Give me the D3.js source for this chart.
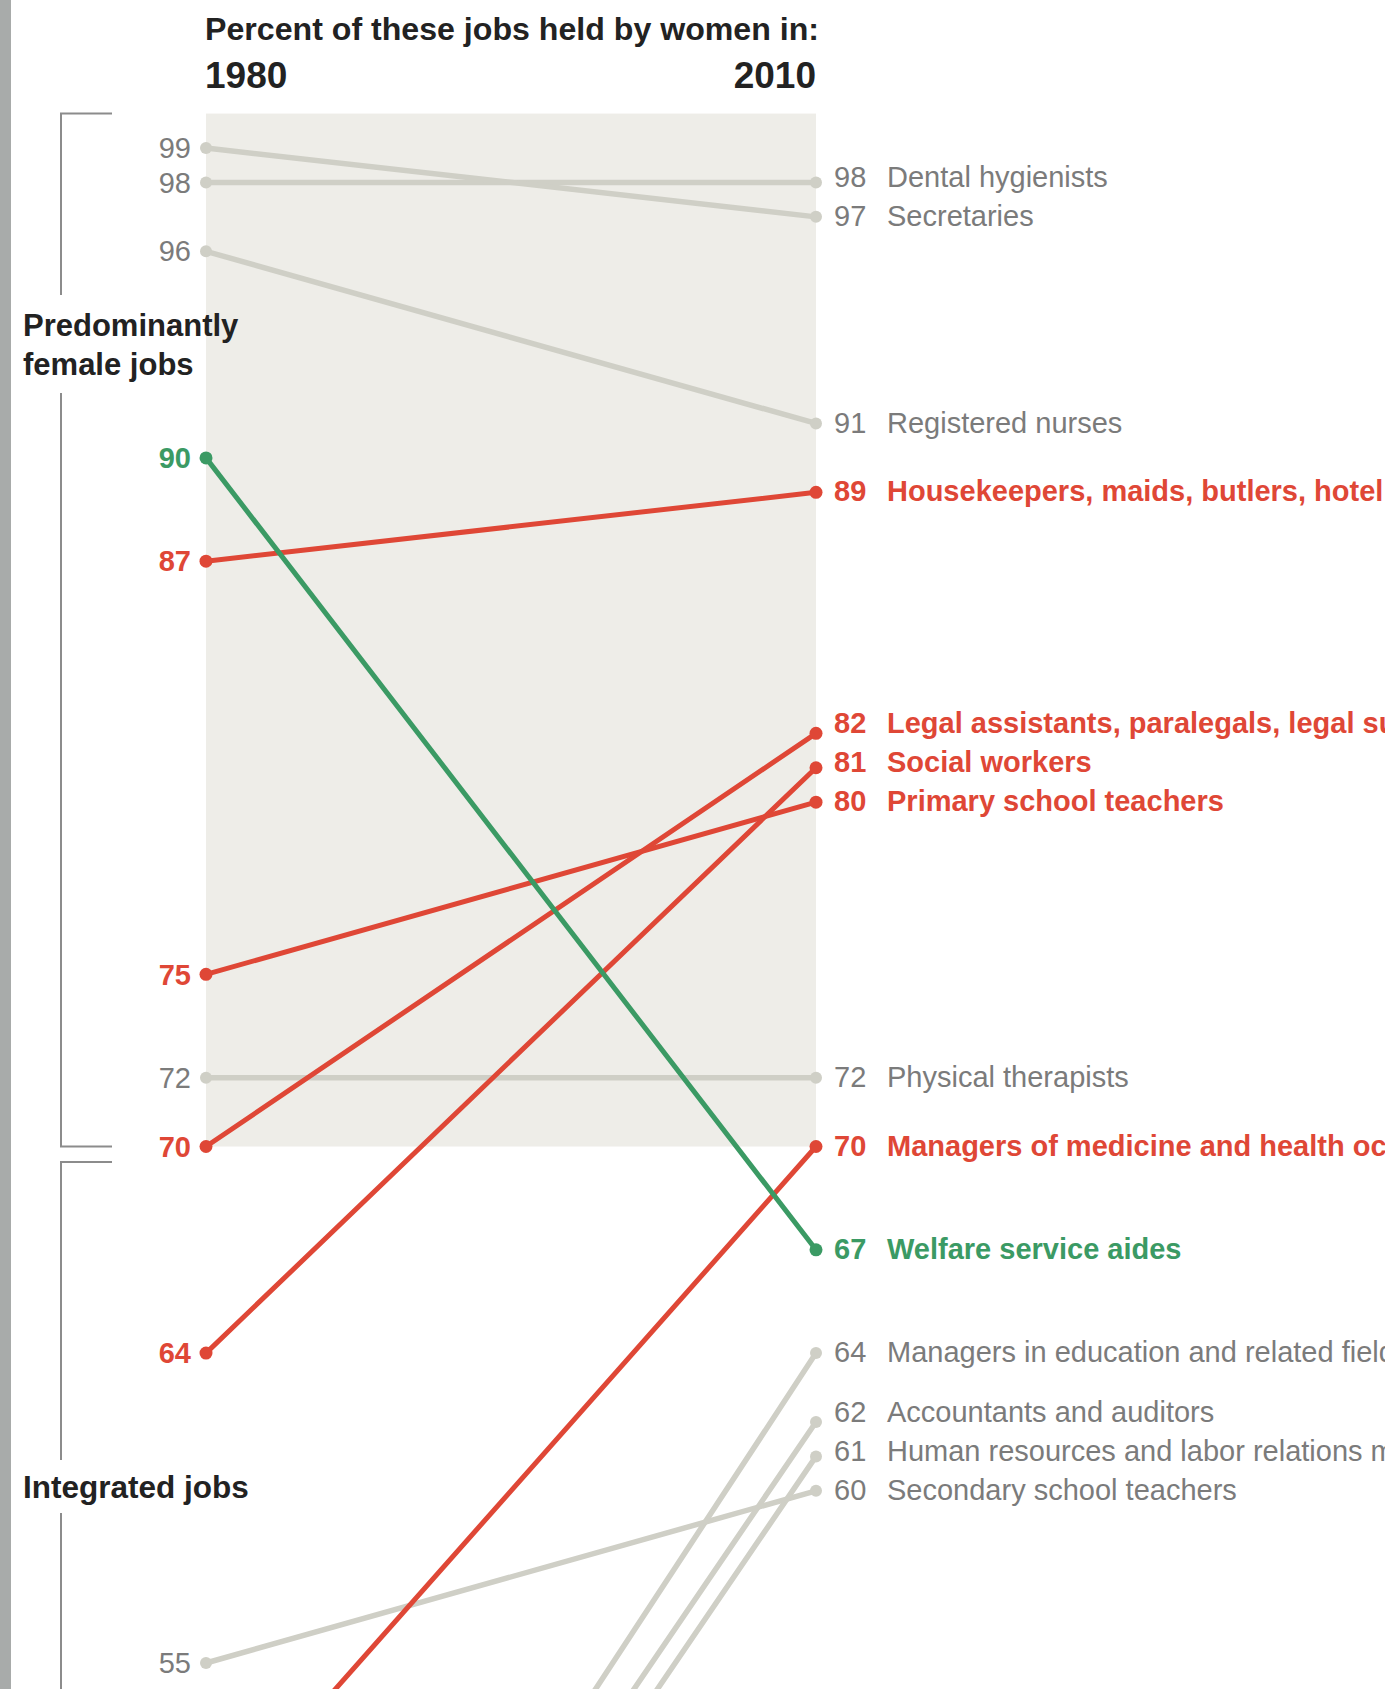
<!DOCTYPE html>
<html>
<head>
<meta charset="utf-8">
<script src="https://cdn.jsdelivr.net/npm/d3@7"></script>
<style>
  html, body { margin: 0; padding: 0; background: #fff; }
  svg { display: block; }
  text { font-family: "Liberation Sans", Arial, sans-serif; }
</style>
</head>
<body>
<div id="chart"></div>
<script>
// ---- data ----
const years = [1980, 2010];
const jobs = [
  "Dental hygienists",
  "Secretaries",
  "Registered nurses",
  "Housekeepers, maids, butlers, hotel and motel clerks",
  "Legal assistants, paralegals, legal support workers",
  "Social workers",
  "Primary school teachers",
  "Physical therapists",
  "Managers of medicine and health occupations",
  "Welfare service aides",
  "Managers in education and related fields",
  "Accountants and auditors",
  "Human resources and labor relations managers",
  "Secondary school teachers"
];
const pct1980 = [98, 99, 96, 87, 70, 64, 75, 72, 50, 90, 37, 36, 35, 55];
const pct2010 = [98, 97, 91, 89, 82, 81, 80, 72, 70, 67, 64, 62, 61, 60];
const highlight = ["none","none","none","up","up","up","up","none","up","down","none","none","none","none"];
const groups = [
  { lines: ["Predominantly", "female jobs"], from: 100, to: 70 },
  { lines: ["Integrated jobs"], from: 69.55, to: 40 }
];
const titleText = "Percent of these jobs held by women in:";

// ---- styles ----
const W = 1392, H = 1689;
const colorOf = { up: "#df4736", down: "#3b9a64", none: "#cfcfc6" };
const textColorOf = { up: "#df4736", down: "#3b9a64", none: "#7b7b7b" };

const svg = d3.select("#chart").append("svg")
  .attr("width", W).attr("height", H);

svg.append("rect").attr("width", W).attr("height", H).attr("fill", "#fff");
// left frame bar
svg.append("rect").attr("x", 0).attr("y", 0).attr("width", 11).attr("height", H).attr("fill", "#a8abaa");

const x = d3.scaleLinear().domain(years).range([206, 816]);
const y = d3.scaleLinear().domain([99, 55]).range([148, 1663]);

// shaded band for predominantly female jobs
svg.append("rect")
  .attr("x", x(1980)).attr("y", y(groups[0].from))
  .attr("width", x(2010) - x(1980))
  .attr("height", y(groups[0].to) - y(groups[0].from))
  .attr("fill", "#eeede8");

// title
svg.append("text").attr("x", x(1980) - 1).attr("y", 40)
  .attr("font-size", 31).attr("font-weight", "bold").attr("fill", "#222")
  .attr("textLength", 614).attr("lengthAdjust", "spacingAndGlyphs")
  .text(titleText);
svg.append("text").attr("x", x(1980) - 1).attr("y", 88)
  .attr("font-size", 37).attr("font-weight", "bold").attr("fill", "#222")
  .text(years[0]);
svg.append("text").attr("x", x(2010)).attr("y", 88)
  .attr("text-anchor", "end")
  .attr("font-size", 37).attr("font-weight", "bold").attr("fill", "#222")
  .text(years[1]);

// group brackets
const bx = 61, bx2 = 112;
const brk = svg.append("g").attr("stroke", "#8c8c8c").attr("stroke-width", 2).attr("fill", "none");
// group 1
brk.append("path").attr("d", `M${bx2},${y(groups[0].from)}H${bx}V295`);
brk.append("path").attr("d", `M${bx},393V${y(groups[0].to)}H${bx2}`);
// group 2
brk.append("path").attr("d", `M${bx2},${y(groups[1].from)}H${bx}V1460`);
brk.append("path").attr("d", `M${bx},1513V${y(groups[1].to)}`);

const gl = svg.append("g").attr("font-size", 31).attr("font-weight", "bold").attr("fill", "#222");
gl.append("text").attr("x", 23).attr("y", 336).text(groups[0].lines[0]);
gl.append("text").attr("x", 23).attr("y", 375).text(groups[0].lines[1]);
gl.append("text").attr("x", 23).attr("y", 1498).attr("font-size", 31.5).text(groups[1].lines[0]);

// ---- lines ----
const data = jobs.map((j, i) => ({ job: j, a: pct1980[i], b: pct2010[i], h: highlight[i] }));
const order = { none: 0, up: 1, down: 2 };
const drawOrder = data.slice().sort((p, q) => order[p.h] - order[q.h]);

const lineG = svg.append("g");
lineG.selectAll("line").data(drawOrder).join("line")
  .attr("x1", x(1980)).attr("x2", x(2010))
  .attr("y1", d => y(d.a)).attr("y2", d => y(d.b))
  .attr("stroke", d => colorOf[d.h])
  .attr("stroke-width", d => d.h === "none" ? 5.5 : 5)
  .attr("stroke-linecap", "round");

const dotG = svg.append("g");
drawOrder.forEach(d => {
  dotG.append("circle").attr("cx", x(1980)).attr("cy", y(d.a)).attr("r", d.h === "none" ? 6 : 6.5).attr("fill", colorOf[d.h]);
  dotG.append("circle").attr("cx", x(2010)).attr("cy", y(d.b)).attr("r", d.h === "none" ? 6 : 6.5).attr("fill", colorOf[d.h]);
});

// ---- left labels (one per distinct 1980 value in view, highlighted wins) ----
const leftMap = new Map();
data.forEach(d => {
  if (y(d.a) > H - 10) return; // off the visible chart
  const cur = leftMap.get(d.a);
  if (!cur || (cur.h === "none" && d.h !== "none")) leftMap.set(d.a, d);
});
const leftG = svg.append("g");
for (const [v, d] of leftMap) {
  leftG.append("text")
    .attr("x", x(1980) - 15).attr("y", y(v)).attr("dy", "0.35em")
    .attr("text-anchor", "end")
    .attr("font-size", 29)
    .attr("font-weight", d.h === "none" ? "normal" : "bold")
    .attr("fill", textColorOf[d.h])
    .text(v);
}

// ---- right labels with simple collision relaxation (bottom-up) ----
const gap = 39;
const right = data.slice().sort((p, q) => q.b - p.b).map(d => ({ d, ly: y(d.b) }));
for (let i = right.length - 2; i >= 0; i--) {
  if (right[i + 1].ly - right[i].ly < gap) right[i].ly = right[i + 1].ly - gap;
}
svg.append("clipPath").attr("id", "rclip").append("rect")
  .attr("x", 0).attr("y", 0).attr("width", 1385).attr("height", H);
const rightG = svg.append("g").attr("clip-path", "url(#rclip)");
right.forEach(r => {
  const d = r.d;
  const t = rightG.append("g")
    .attr("font-size", 29)
    .attr("font-weight", d.h === "none" ? "normal" : "bold")
    .attr("fill", textColorOf[d.h]);
  t.append("text").attr("x", x(2010) + 18).attr("y", r.ly - 1).attr("dy", "0.35em").text(d.b);
  t.append("text").attr("x", x(2010) + 71).attr("y", r.ly - 1).attr("dy", "0.35em").text(d.job);
});
</script>
</body>
</html>
